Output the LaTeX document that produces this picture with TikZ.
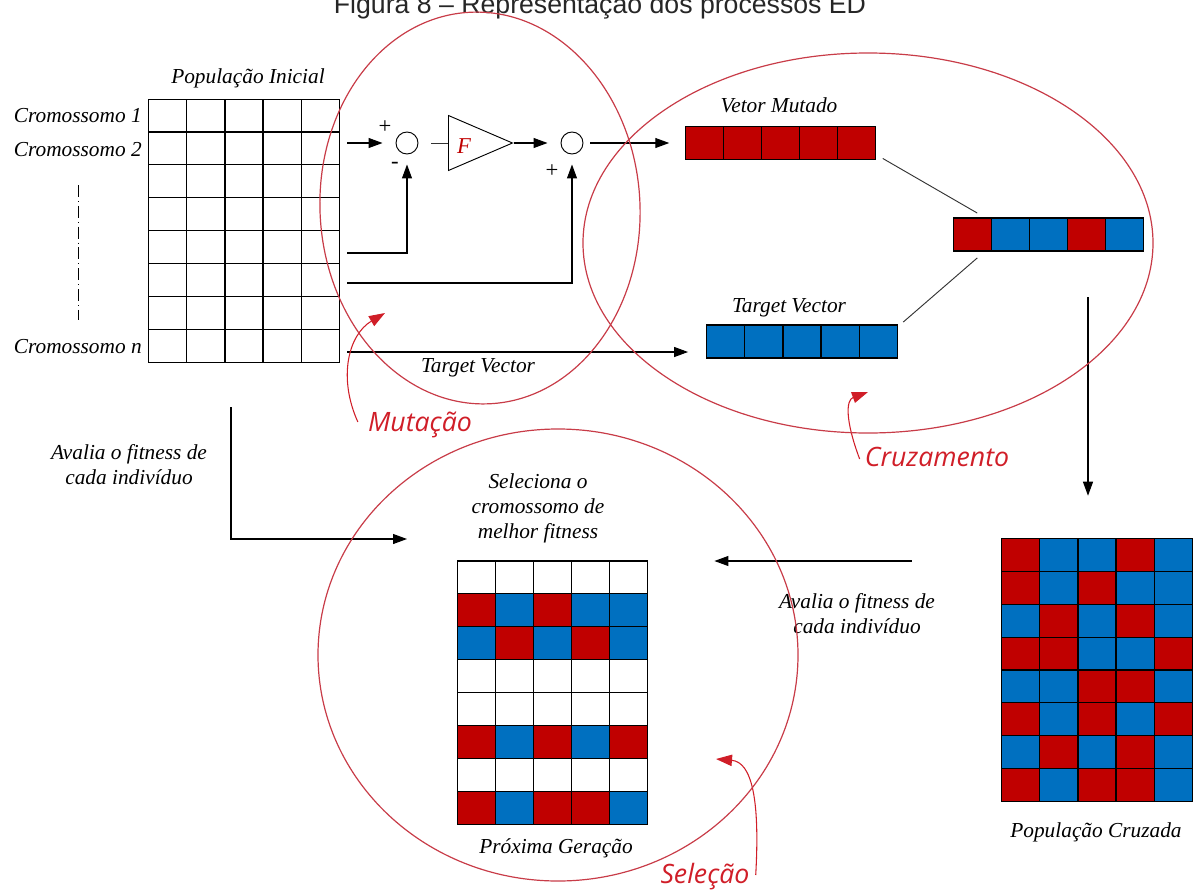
\documentclass[tikz,border=0pt]{standalone}
\usepackage{fontspec}
\setmainfont{Liberation Serif}
\newfontfamily\capfont{Liberation Sans}
\newfontfamily\tagfont{Open Sans}
\usetikzlibrary{arrows.meta, shapes.geometric}

\definecolor{cR}{HTML}{C00000}
\definecolor{cB}{HTML}{0070C0}
\definecolor{cW}{HTML}{FFFFFF}
\definecolor{ringred}{HTML}{C83C48}
\definecolor{tagred}{HTML}{D01E28}

\tikzset{
    txt/.style={font=\fontsize{16}{18.75}\selectfont\itshape, inner sep=0pt, align=center},
    tag/.style={font=\tagfont\fontsize{20}{24}\selectfont\itshape, text=tagred, inner sep=0pt},
    sign/.style={font=\fontsize{17}{17}\selectfont, inner sep=0pt},
    ring/.style={draw=ringred, line width=0.9pt},
    pointer/.style={draw=tagred, line width=0.8pt, -{Triangle[length=12pt, width=8.5pt]}},
    flow/.style={draw, line width=0.8pt, -{Triangle[length=10.5pt, width=7.5pt]}},
    link/.style={draw=black!80, line width=0.7pt},
    sumnode/.style={draw, circle, minimum size=16.5pt, inner sep=0pt, line width=0.7pt},
    gainnode/.style={draw, isosceles triangle, isosceles triangle stretches,
        minimum width=41.25pt, minimum height=48pt, inner sep=0pt, line width=0.7pt},
    cellbox/.style n args={2}{minimum width=#1*0.75pt, minimum height=#2*0.75pt, inner sep=0pt, outer sep=0pt}
}

\def\cellw{38.1}
\def\cellh{32.9}
\newcommand\fillcells[3]{%
    \begin{scope}[shift={(#1.north west)}]
    \foreach \rowlist [count=\ri from 0] in {#3}{
        \foreach \cl [count=\ki from 0] in \rowlist
            \filldraw[fill=c\cl, draw=black, line width=0.85pt] (\ki*\cellw, \ri*#2) rectangle ++(\cellw, #2);
    }
    \end{scope}}

\begin{document}
\begin{tikzpicture}[x=0.75pt, y=-0.75pt]
    \useasboundingbox (0,0) rectangle (1200,893);
    \node[font=\capfont\fontsize{20}{24}\selectfont, text=black!85, anchor=base, inner sep=0pt] (title) at (600,13) {Figura 8 – Representação dos processos ED};

    % grids and vectors
    \node[cellbox={190.5}{263.2}] (pop) at (244,230.7) {};
    \node[cellbox={190.5}{263.2}] (nxt) at (552.5,692.6) {};
    \node[cellbox={190.5}{263.2}] (crz) at (1097,670) {};
    \node[cellbox={190.5}{32.9}] (vmut) at (780.5,143) {};
    \node[cellbox={190.5}{32.9}] (vcrz) at (1048.5,234.5) {};
    \node[cellbox={190.5}{32.9}] (vtgt) at (802,341.5) {};
    \fillcells{pop}{\cellh}{{W,W,W,W,W},{W,W,W,W,W},{W,W,W,W,W},{W,W,W,W,W},{W,W,W,W,W},{W,W,W,W,W},{W,W,W,W,W},{W,W,W,W,W}}
    \fillcells{nxt}{\cellh}{{W,W,W,W,W},{R,B,R,B,B},{B,R,B,R,B},{W,W,W,W,W},{W,W,W,W,W},{R,B,R,B,R},{W,W,W,W,W},{R,B,R,R,B}}
    \fillcells{crz}{\cellh}{{R,B,B,R,B},{R,B,R,B,B},{B,R,B,R,B},{R,R,B,B,R},{B,B,R,R,B},{R,B,R,B,R},{B,R,B,R,B},{R,B,R,R,B}}
    \fillcells{vmut}{32.9}{{R,R,R,R,R}}
    \fillcells{vcrz}{32.9}{{R,B,B,R,B}}
    \fillcells{vtgt}{32.9}{{B,B,B,B,B}}

    % mutation operator
    \node[sumnode] (s1) at (407,143) {};
    \node[gainnode, anchor=lower side] (gain) at (448,143) {};
    \node[sumnode] (s2) at (572,143) {};
    \node[txt, text=cR, font=\fontsize{17}{17}\selectfont\itshape] (fgain) at (464,146) {F};
    \node[sign] (p1) at (385,127) {+};
    \node[sign] (n1) at (395,165) {-};
    \node[sign] (p2) at (552,171) {+};

    \coordinate (m1) at (347,143);
    \coordinate (m2) at (347,253);
    \coordinate (m3) at (347,283);
    \coordinate (m4) at (347,352);
    \draw[flow, shorten >=9.75pt] (m1) -- (s1.west);
    \draw[link, shorten <=9.75pt] (s1.east) -- (gain.lower side);
    \draw[flow, shorten >=9.75pt] (gain.apex) -- (s2.west);
    \draw[flow, shorten <=5pt, shorten >=12pt] (s2.east) -- (vmut.west);
    \draw[flow, shorten >=7.5pt] (m2) -| (s1.south);
    \draw[flow, shorten >=7.5pt] (m3) -| (s2.south);
    \draw[flow, shorten >=14pt] (m4) -- (vtgt.west |- m4);

    % crossover
    \draw[link] ([shift={(7,-1)}]vmut.south east) -- ([shift={(24,-5)}]vcrz.north west);
    \draw[link] ([shift={(6,-3)}]vtgt.north east) -- ([shift={(24,7)}]vcrz.south west);
    \coordinate (c1) at (1088,297);
    \draw[flow, shorten >=32pt] (c1) -- (c1 |- crz.north);

    % selection
    \draw[flow, shorten <=67.5pt, shorten >=50pt] (crz.west |- nxt.north) -- (nxt.north east);
    \coordinate (e1) at (231,407);
    \coordinate (e2) at (407,539);
    \draw[flow] (e1) |- (e2);

    % labels
    \node[txt] (popl) at (248,78) {População Inicial};
    \node[txt, anchor=east] (cr1) at (142,116) {Cromossomo 1};
    \node[txt, anchor=east] (cr2) at (142,150) {Cromossomo 2};
    \node[txt, anchor=east] (crn) at (142,347) {Cromossomo n};
    \draw[line width=0.6pt, dash pattern=on 9pt off 3pt on 0.6pt off 3pt] (78,185) -- (78,320);
    \node[txt] (vmutl) at (779,105) {Vetor Mutado};
    \node[txt] (vtgtl) at (789,308) {Target Vector};
    \node[txt] (tvl) at (478,368) {Target Vector};
    \node[txt] (evl) at (129,465) {Avalia o fitness de\\cada indivíduo};
    \node[txt] (evr) at (857,614) {Avalia o fitness de\\cada indivíduo};
    \node[txt] (sel) at (538,508) {Seleciona o\\cromossomo de\\melhor fitness};
    \node[txt] (nxtl) at (556,848) {Próxima Geração};
    \node[txt] (crzl) at (1096,832) {População Cruzada};

    % stages
    \node[tag] (mutl) at (420,425) {Mutação};
    \node[tag] (crul) at (937,457) {Cruzamento};
    \node[tag] (sell) at (705,877) {Seleção};
    \coordinate (mtip) at (385,313);
    \coordinate (ctip) at (868,392);
    \coordinate (stip) at (716,759);
    \draw[pointer] ([shift={(-10,-3)}]mutl.west) .. controls (338,378) and (348,335) .. (mtip);
    \draw[pointer] ([shift={(-5,2)}]crul.west) .. controls (845,420) and (846,400) .. (ctip);
    \draw[pointer] ([shift={(6,-2)}]sell.east) .. controls (760,800) and (752,762) .. (stip);

    \draw[ring, rotate around={3:(480,208)}] (480,208) ellipse [x radius=160, y radius=196];
    \draw[ring] (868,243) ellipse [x radius=285, y radius=190];
    \draw[ring] (558,655) ellipse [x radius=240, y radius=226];
\end{tikzpicture}
\end{document}
